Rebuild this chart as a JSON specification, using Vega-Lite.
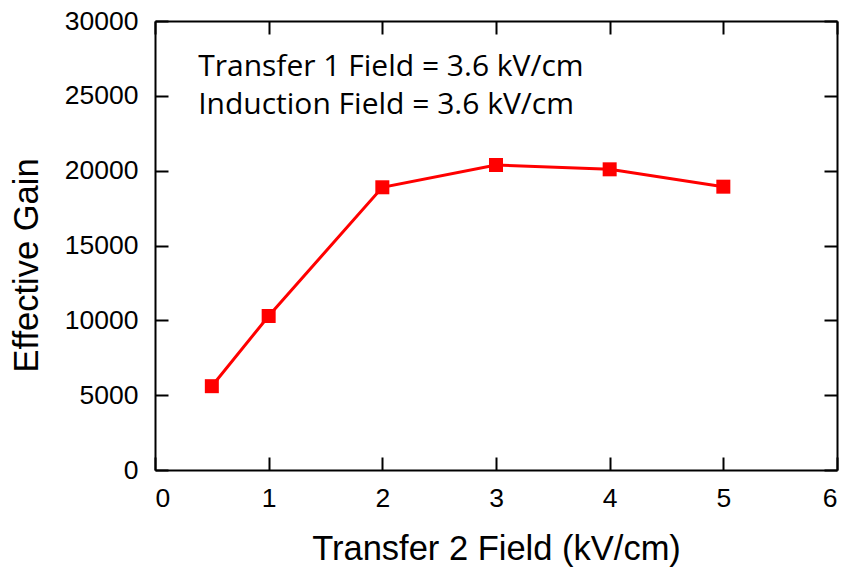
{
  "$schema": "https://vega.github.io/schema/vega-lite/v6.json",
  "width": 682,
  "height": 449,
  "autosize": {"type": "none"},
  "padding": {"left": 155, "top": 21, "right": 8, "bottom": 99},
  "background": "white",
  "config": {
    "view": {"stroke": null},
    "axis": {
      "grid": false,
      "domainColor": "black",
      "domainWidth": 2,
      "tickColor": "black",
      "tickWidth": 2,
      "tickSize": -13,
      "format": "d",
      "labelFont": "Liberation Sans",
      "labelFontSize": 26.5,
      "labelColor": "black",
      "titleFont": "Liberation Sans",
      "titleFontSize": 34.5,
      "titleFontWeight": "normal",
      "titleColor": "black"
    }
  },
  "datasets": {
    "gain": [
      {"field": 0.5, "gain": 5600},
      {"field": 1, "gain": 10290},
      {"field": 2, "gain": 18890},
      {"field": 3, "gain": 20380},
      {"field": 4, "gain": 20090},
      {"field": 5, "gain": 18930}
    ],
    "notes": [
      {"x": 0.38, "y": 26900, "label": "Transfer 1 Field = 3.6 kV/cm"},
      {"x": 0.38, "y": 24400, "label": "Induction Field = 3.6 kV/cm"}
    ]
  },
  "layer": [
    {
      "data": {"name": "gain"},
      "mark": {"type": "line", "color": "#ff0000", "strokeWidth": 3, "point": {"shape": "square", "size": 196, "filled": true, "color": "#ff0000", "opacity": 1}},
      "encoding": {
        "x": {"field": "field", "type": "quantitative", "scale": {"domain": [0, 6], "nice": false},
              "axis": {"orient": "bottom", "title": "Transfer 2 Field (kV/cm)", "values": [0,1,2,3,4,5,6], "labelPadding": 28, "titlePadding": 21}},
        "y": {"field": "gain", "type": "quantitative", "scale": {"domain": [0, 30000], "nice": false},
              "axis": {"orient": "left", "title": "Effective Gain", "values": [0,5000,10000,15000,20000,25000,30000], "labelPadding": 30, "titlePadding": 20, "titleY": 244}}
      }
    },
    {
      "data": {"name": "gain"},
      "mark": {"type": "point", "opacity": 0},
      "encoding": {
        "x": {"field": "field", "type": "quantitative", "scale": {"domain": [0, 6], "nice": false},
              "axis": {"orient": "top", "title": null, "labels": false, "values": [0,1,2,3,4,5,6]}},
        "y": {"field": "gain", "type": "quantitative", "scale": {"domain": [0, 30000], "nice": false},
              "axis": {"orient": "right", "title": null, "labels": false, "values": [0,5000,10000,15000,20000,25000,30000]}}
      }
    },
    {
      "data": {"name": "notes"},
      "mark": {"type": "text", "align": "left", "baseline": "middle", "font": "Open Sans", "fontSize": 30, "color": "black"},
      "encoding": {
        "x": {"field": "x", "type": "quantitative", "scale": {"domain": [0, 6], "nice": false}, "axis": null},
        "y": {"field": "y", "type": "quantitative", "scale": {"domain": [0, 30000], "nice": false}, "axis": null},
        "text": {"field": "label"}
      }
    }
  ],
  "resolve": {"axis": {"x": "independent", "y": "independent"}}
}
